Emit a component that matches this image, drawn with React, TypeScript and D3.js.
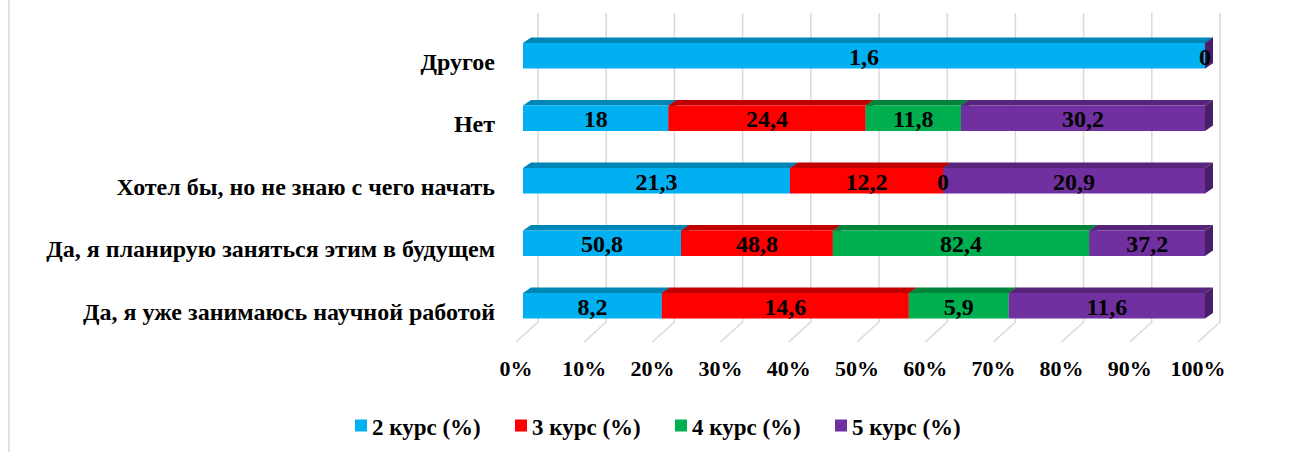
import React from 'react';
import * as d3 from 'd3';

// categories, top to bottom
const categories = [
  'Другое',
  'Нет',
  'Хотел бы, но не знаю с чего начать',
  'Да, я планирую заняться этим в будущем',
  'Да, я уже занимаюсь научной работой',
];
const seriesNames = ['2 курс (%)', '3 курс (%)', '4 курс (%)', '5 курс (%)'];
const course2 = [1.6, 18, 21.3, 50.8, 8.2];
const course3 = [null, 24.4, 12.2, 48.8, 14.6];
const course4 = [null, 11.8, 0, 82.4, 5.9];
const course5 = [0, 30.2, 20.9, 37.2, 11.6];
const tickLabels = ['0%', '10%', '20%', '30%', '40%', '50%', '60%', '70%', '80%', '90%', '100%'];

const frontColors = ['#00B0F0', '#FF0000', '#00B050', '#7030A0'];
const topColors = ['#0086B6', '#C00000', '#00843C', '#56247B'];
const sideColors = ['#00729B', '#A50000', '#006F33', '#4A1F6A'];

const W = 1294;
const H = 452;
const DX = 8;   // bar depth
const DY = -5.5;
const FONT = "'Liberation Serif', 'Times New Roman', serif";

export default function App() {
  const series = [course2, course3, course4, course5];

  const x = d3.scaleLinear().domain([0, 1]).range([523, 1205]);
  const xBack = (v: number) => x(v) + 15;
  const xFloor = (v: number) => x(v) - 7;
  const y = d3.scaleBand<string>()
    .domain(categories)
    .range([24.5, 24.5 + 62.5 * 5])
    .paddingInner(0.592)
    .paddingOuter(0.296);

  const gridTop = 13;
  const gridBottom = 322;
  const floorY = 342;
  const ticks = d3.range(0, 1.0001, 0.1);

  const fmt = (v: number) => String(v).replace('.', ',');

  const bars = categories.map((c, ci) => {
    const vals = series.map(s => s[ci]);
    const total = d3.sum(vals, v => (v == null ? 0 : v));
    let acc = 0;
    const segs: any[] = [];
    vals.forEach((v, si) => {
      if (v == null) return;
      const x0 = x(acc / total);
      acc += v;
      const x1 = x(acc / total);
      segs.push({ si, v, x0, x1 });
    });
    return { c, segs };
  });

  const txt = { fontFamily: FONT, fontWeight: 700 as const };

  return (
    <svg width={W} height={H} style={{ position: 'absolute', left: 0, top: 0 }}>
      <rect x={0} y={0} width={W} height={H} fill="#fff" />
      <line x1={9} x2={9} y1={0} y2={H} stroke="#D9D9D9" strokeWidth={1.5} />

      {/* gridlines: back wall + floor */}
      <g stroke="#D9D9D9" strokeWidth={1.5} fill="none">
        {ticks.map((t, i) => (
          <polyline
            key={i}
            points={`${xBack(t)},${gridTop} ${xBack(t)},${gridBottom} ${xFloor(t)},${floorY}`}
          />
        ))}
      </g>

      {/* bars */}
      {bars.map(b => {
        const top = y(b.c)!;
        const bot = top + y.bandwidth();
        return (
          <g key={b.c}>
            {b.segs.map(s => (
              <g key={s.si}>
                <polygon
                  points={`${s.x0},${top} ${s.x0 + DX},${top + DY} ${s.x1 + DX},${top + DY} ${s.x1},${top}`}
                  fill={topColors[s.si]}
                />
                <polygon
                  points={`${s.x1},${top} ${s.x1 + DX},${top + DY} ${s.x1 + DX},${bot + DY} ${s.x1},${bot}`}
                  fill={sideColors[s.si]}
                />
                <rect x={s.x0} y={top} width={s.x1 - s.x0} height={bot - top} fill={frontColors[s.si]} />
              </g>
            ))}
            {b.segs.map(s => (
              <text
                key={'t' + s.si}
                x={(s.x0 + s.x1) / 2}
                y={(top + bot) / 2 + 1}
                textAnchor="middle"
                dominantBaseline="central"
                style={{ ...txt, fontSize: 24 }}
                fill="#000"
              >
                {fmt(s.v)}
              </text>
            ))}
            <text
              x={495}
              y={(top + bot) / 2 + 6}
              textAnchor="end"
              dominantBaseline="central"
              style={{ ...txt, fontSize: 24 }}
              fill="#000"
            >
              {b.c}
            </text>
          </g>
        );
      })}

      {/* x axis labels */}
      {ticks.map((t, i) => (
        <text
          key={i}
          x={xFloor(t)}
          y={368}
          textAnchor="middle"
          dominantBaseline="central"
          style={{ ...txt, fontSize: 22 }}
          fill="#000"
        >
          {tickLabels[i]}
        </text>
      ))}

      {/* legend */}
      {seriesNames.map((n, i) => (
        <g key={n} transform={`translate(${355 + i * 160},0)`}>
          <rect x={0} y={419.5} width={12} height={12} fill={frontColors[i]} />
          <text
            x={17}
            y={427}
            dominantBaseline="central"
            style={{ ...txt, fontSize: 23 }}
            fill="#000"
          >
            {n}
          </text>
        </g>
      ))}
    </svg>
  );
}
